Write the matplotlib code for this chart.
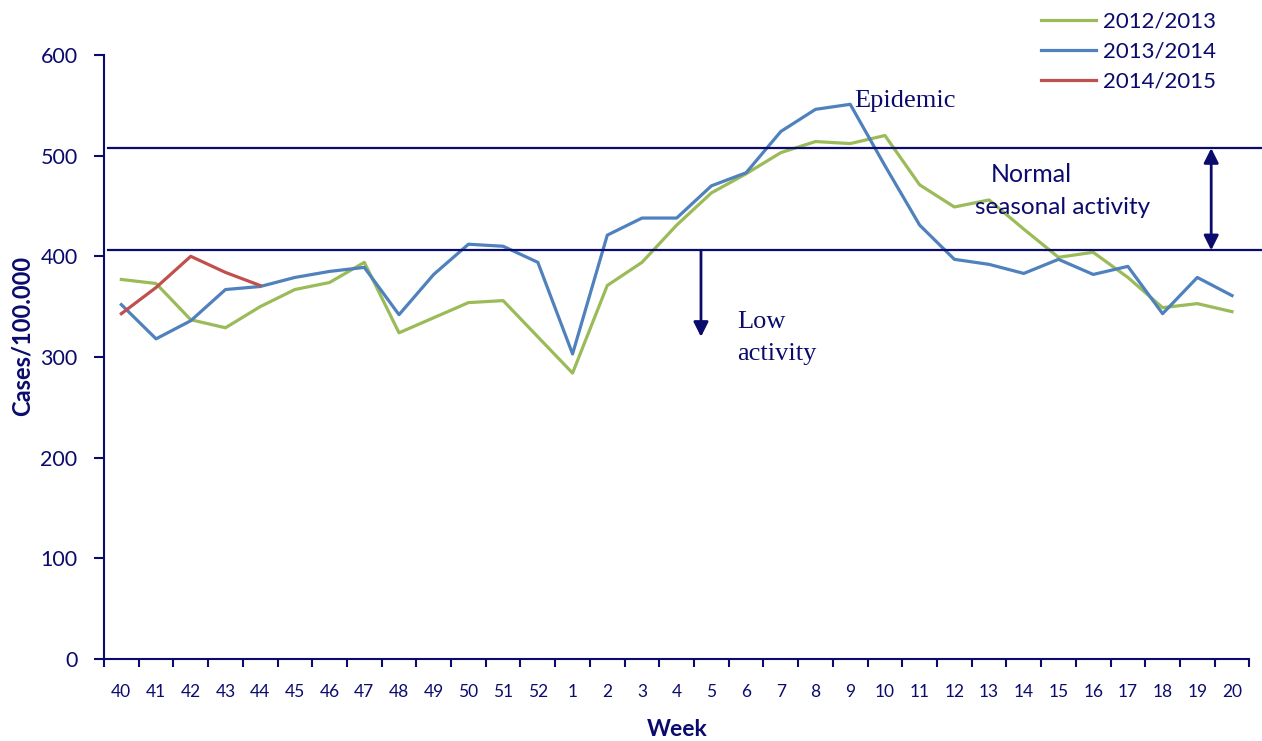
import matplotlib.pyplot as plt
import numpy as np

weeks = ['40', '41', '42', '43', '44', '45', '46', '47', '48', '49', '50', '51', '52',
         '1', '2', '3', '4', '5', '6', '7', '8', '9', '10', '11', '12', '13', '14',
         '15', '16', '17', '18', '19', '20']

s2012 = [377, 373, 337, 329, 350, 367, 374, 394, 324, 339, 354, 356, 320,
         284, 371, 394, 431, 463, 482, 503, 514, 512, 520, 471, 449, 456, 427,
         399, 404, 379, 349, 353, 345]
s2013 = [352, 318, 336, 367, 370, 379, 385, 389, 342, 382, 412, 410, 394,
         303, 421, 438, 438, 470, 483, 524, 546, 551, 490, 431, 397, 392, 383,
         397, 382, 390, 343, 379, 361]
s2014 = [343, 369, 400, 384, 371]

epidemic_level = 507.5
low_level = 406
low_arrow_end = 320

navy = '#0b0b6e'
c_green = '#9BBB59'
c_blue = '#4F81BD'
c_red = '#C0504D'

plt.rcParams['font.family'] = ['Lato', 'DejaVu Sans']

fig = plt.figure(figsize=(12.62, 7.41), dpi=100)
ax = fig.add_axes([0.0824, 0.1107, 0.9076, 0.8151])

x = np.arange(len(weeks))
ax.plot(x, s2012, color=c_green, lw=2.3, label='2012/2013')
ax.plot(x, s2013, color=c_blue, lw=2.3, label='2013/2014')
ax.plot(x[:len(s2014)], s2014, color=c_red, lw=2.3, label='2014/2015')

ax.set_xlim(-0.5, len(weeks) - 0.5)
ax.set_ylim(0, 600)
ax.set_yticks(range(0, 601, 100))
ax.set_xticks(x)
ax.set_xticklabels(weeks)
ax.set_xticks(np.arange(-0.5, len(weeks), 1), minor=True)
ax.tick_params(axis='x', which='major', length=0, pad=18, labelsize=12.5, labelcolor=navy)
ax.tick_params(axis='x', which='minor', length=6, width=1.5, color=navy, direction='out')
ax.tick_params(axis='y', length=7, width=1.5, color=navy, direction='out', pad=12,
               labelsize=15.5, labelcolor=navy)

for s in ['top', 'right']:
    ax.spines[s].set_visible(False)
for s in ['left', 'bottom']:
    ax.spines[s].set_color(navy)
    ax.spines[s].set_linewidth(1.5)

ax.set_xlabel('Week', fontsize=16.5, fontweight='bold', color=navy, va='center')
ax.xaxis.set_label_coords(0.5, -0.1175)
ax.set_ylabel('Cases/100.000', fontsize=17, fontweight='bold', color=navy,
              va='center', ha='center')
ax.yaxis.set_label_coords(-0.0716, 0.535)

# threshold lines
ax.axhline(epidemic_level, xmin=0.0035, xmax=1.0105, color=navy, lw=1.6, clip_on=False)
ax.axhline(low_level, xmin=0.0035, xmax=1.0105, color=navy, lw=1.6, clip_on=False)

# arrows
ax.annotate('', xy=(31.4, epidemic_level), xytext=(31.4, low_level),
            arrowprops=dict(arrowstyle='<|-|>', color=navy, lw=2, mutation_scale=22,
                            shrinkA=0, shrinkB=0))
ax.annotate('', xy=(16.7, low_arrow_end), xytext=(16.7, low_level),
            arrowprops=dict(arrowstyle='-|>', color=navy, lw=2, mutation_scale=22,
                            shrinkA=0, shrinkB=0))

ax.text(21.12, 554, 'Epidemic', family='Liberation Serif', fontsize=19, color=navy,
        ha='left', va='center')
ax.text(17.75, 335, 'Low', family='Liberation Serif', fontsize=19, color=navy,
        ha='left', va='center')
ax.text(17.75, 303, 'activity', family='Liberation Serif', fontsize=19, color=navy,
        ha='left', va='center')
ax.text(26.22, 481, 'Normal', fontsize=18, color=navy, ha='center', va='center')
ax.text(27.13, 448, 'seasonal activity', fontsize=17.5, color=navy, ha='center', va='center')

leg = ax.legend(loc='upper left', bbox_to_anchor=(0.81, 1.086), frameon=False,
                fontsize=16, labelcolor=navy, handlelength=2.5, handletextpad=0.3,
                labelspacing=0.45, borderaxespad=0)

fig.savefig('out.png', dpi=100)
